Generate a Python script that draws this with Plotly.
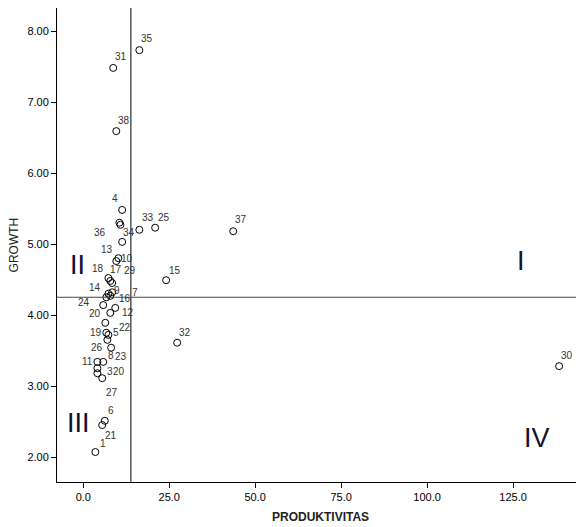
import plotly.graph_objects as go

# Case labels and values (PRODUKTIVITAS, GROWTH)
case_labels = ["1", "21", "6", "3", "20", "27", "11", "8", "23", "26",
               "19", "5", "22", "20", "12", "24", "14", "9", "16", "7",
               "18", "17", "29", "10", "", "13", "34", "36", "4", "33",
               "25", "35", "31", "38", "37", "15", "32", "30"]
produktivitas = [3.5, 5.5, 6.25, 4.1, 4.1, 5.5, 4.1, 5.8, 8.1, 7.0,
                 6.7, 7.3, 6.4, 7.85, 9.3, 5.8, 6.7, 7.3, 7.85, 8.4,
                 7.3, 7.85, 8.4, 10.2, 9.6, 11.3, 10.8, 10.5, 11.3, 16.3,
                 20.9, 16.3, 8.7, 9.6, 43.6, 24.1, 27.3, 138.4]
growth = [2.07, 2.45, 2.51, 3.25, 3.18, 3.11, 3.34, 3.34, 3.54, 3.65,
          3.75, 3.72, 3.89, 4.03, 4.10, 4.14, 4.25, 4.30, 4.27, 4.32,
          4.52, 4.48, 4.45, 4.80, 4.76, 5.03, 5.27, 5.30, 5.48, 5.20,
          5.23, 7.73, 7.48, 6.59, 5.18, 4.49, 3.61, 3.28]

mean_produktivitas = 13.84
mean_growth = 4.25

x_ticks = [0, 25, 50, 75, 100, 125]
y_ticks = [2, 3, 4, 5, 6, 7, 8]

# label offsets in screen pixels (style only)
label_dx = [8, 9, 6, 13, 22, 10, -10, 8, 10, -10,
            -10, 8, 20, -15, 13, -19, -11, 9, 15, 23,
            -10, 6, 18, 9, 0, -15, 9, -19, -7, 9,
            9, 8, 8, 8, 8, 9, 8, 8]
label_dy = [9, -10, 10, -3, 2, -14, 0, 6, -9, -8,
            0, 2, -5, -1, -5, 3, 10, 3, -3, 0,
            10, 11, 13, 0, 0, -8, -8, -10, 11, 12,
            10, 12, 11, 11, 12, 10, 10, 11]

FONT = "Liberation Sans Narrow, Liberation Sans, Arial, sans-serif"
TITLE_FONT = dict(family="Liberation Sans, Arial, sans-serif", size=12, color="#222222")

fig = go.Figure()
fig.add_trace(go.Scatter(
    x=produktivitas, y=growth, mode="markers",
    marker=dict(symbol="circle-open", size=7, color="black",
                line=dict(width=1, color="black")),
    hoverinfo="skip", showlegend=False))

annotations = []
for xv, yv, t, dx, dy in zip(produktivitas, growth, case_labels, label_dx, label_dy):
    if not t:
        continue
    annotations.append(dict(x=xv, y=yv, xref="x", yref="y", text=t,
                            showarrow=False, xshift=dx, yshift=dy,
                            font=dict(family=FONT, size=10, color="#333333")))

quad_font = dict(family="Liberation Sans, Arial, sans-serif", size=27, color="#111133")
for txt, qx, qy in [("I", 127.3, 4.76), ("II", -1.7, 4.70),
                    ("III", -1.4, 2.48), ("IV", 132.0, 2.27)]:
    annotations.append(dict(x=qx, y=qy, xref="x", yref="y", text=txt,
                            showarrow=False, font=quad_font))

# axis titles
annotations.append(dict(x=0.5, y=-0.074, xref="paper", yref="paper",
                        text="<b>PRODUKTIVITAS</b>", showarrow=False,
                        xanchor="center", yanchor="middle", font=TITLE_FONT))
annotations.append(dict(x=-0.081, y=0.5, xref="paper", yref="paper",
                        text="GROWTH", showarrow=False, textangle=-90,
                        xanchor="center", yanchor="middle", font=TITLE_FONT))

fig.add_shape(type="line", xref="x", yref="paper", x0=mean_produktivitas,
              x1=mean_produktivitas, y0=0, y1=1, line=dict(color="black", width=1))
fig.add_shape(type="line", xref="paper", yref="y", x0=0, x1=1,
              y0=mean_growth, y1=mean_growth, line=dict(color="#444444", width=1))

# the page body adds an 8px offset, so the figure is sized to fit the window
fig.update_layout(
    width=576, height=519,
    margin=dict(l=49, r=1, t=0, b=45, autoexpand=False),
    paper_bgcolor="white", plot_bgcolor="white",
    annotations=annotations,
    font=dict(family=FONT, size=11, color="black"),
    xaxis=dict(range=[-7.65, 145.35], tickvals=x_ticks,
               ticktext=[f"{v:.1f}" for v in x_ticks],
               showgrid=False, zeroline=False, showline=True,
               linecolor="black", linewidth=1, ticks="outside",
               ticklen=5, tickcolor="black", automargin=False,
               tickfont=dict(family=FONT, size=11, color="black")),
    yaxis=dict(range=[1.648, 8.324], tickvals=y_ticks,
               ticktext=[f"{v:.2f}" for v in y_ticks],
               showgrid=False, zeroline=False, showline=True,
               linecolor="black", linewidth=1, ticks="outside",
               ticklen=5, tickcolor="black", automargin=False,
               tickfont=dict(family=FONT, size=11, color="black")),
)

fig.write_html("out.html")
